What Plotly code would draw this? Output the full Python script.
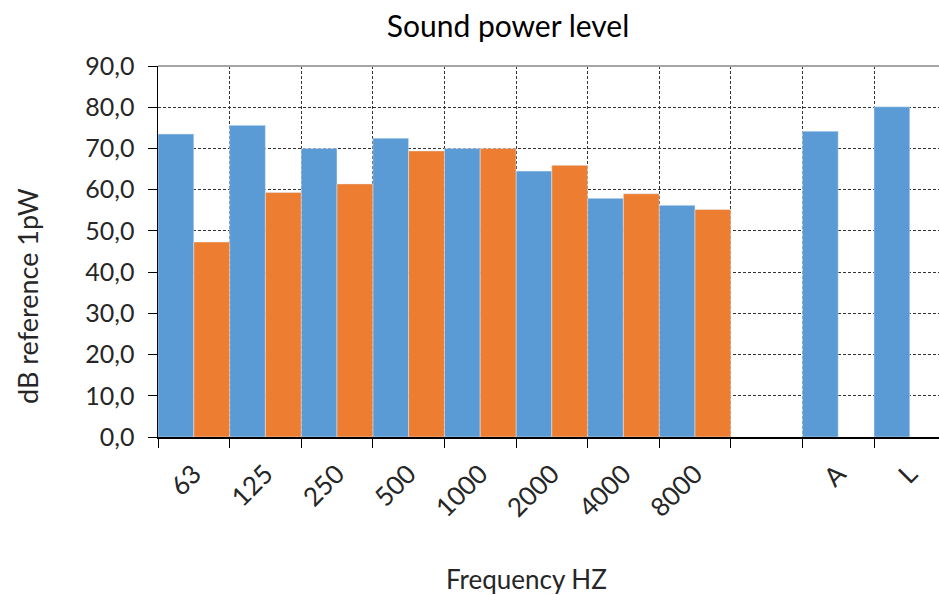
import plotly.graph_objects as go

categories = ["63", "125", "250", "500", "1000", "2000", "4000", "8000", " ", "A", "L"]
series1 = [73.5, 75.6, 70.0, 72.5, 70.0, 64.5, 57.9, 56.2, None, 74.2, 80.1]
series2 = [47.3, 59.3, 61.4, 69.4, 70.0, 65.9, 59.0, 55.2, None, None, None]
y_ticks = [0, 10, 20, 30, 40, 50, 60, 70, 80, 90]

FONT = "Lato"
TXT = "#262626"

# page pixel geometry of the plot area
W, H = 939, 595
PL, PR, PT, PB = 158, 939, 66, 437
CAT_W = 71.6  # pixel width of one category in the reference (last one runs off the edge)

fig = go.Figure()
fig.add_trace(go.Bar(x=categories, y=series1, marker_color="#5B9BD5", name="Series1"))
fig.add_trace(go.Bar(x=categories, y=series2, marker_color="#ED7D31", name="Series2"))

fig.update_layout(
    width=W, height=H,
    margin=dict(l=PL, r=W - PR, t=PT, b=H - PB, pad=0),
    paper_bgcolor="white", plot_bgcolor="white",
    barmode="group", bargap=0, bargroupgap=0,
    showlegend=False,
    separators=", ",
    font=dict(family=FONT, color=TXT),
    title=dict(text="Sound power level", x=508 / W, xref="container", xanchor="center",
               y=1 - 26 / H, yanchor="middle", yref="container",
               font=dict(size=30, family=FONT, color="#000000")),
)

fig.update_xaxes(
    type="category", categoryorder="array", categoryarray=categories,
    range=[-0.5, -0.5 + (PR - PL) / CAT_W],
    tickson="boundaries", ticks="outside", ticklen=9, tickcolor="#000000", tickwidth=1,
    showline=True, linecolor="#000000", linewidth=1.5,
    showgrid=True, gridcolor="#333333", griddash="3px,2px", gridwidth=1,
    tickangle=-45, tickfont=dict(size=26, family=FONT, color=TXT),
    ticklabelstandoff=10,
    fixedrange=True,
)
fig.update_yaxes(
    range=[0, 90], tickvals=y_ticks, tickformat=".1f",
    ticks="outside", ticklen=9, tickcolor="#000000", tickwidth=1,
    showline=True, linecolor="#000000", linewidth=1.5,
    showgrid=True, gridcolor="#333333", griddash="3px,2px", gridwidth=1,
    tickfont=dict(size=25, family=FONT, color=TXT),
    ticklabelstandoff=8,
    zeroline=False,
)

fig.add_shape(type="line", xref="paper", yref="paper", x0=0, x1=1, y0=1, y1=1,
              line=dict(color="#A6A6A6", width=2), layer="above")

pw, ph = PR - PL, PB - PT
fig.add_annotation(text="dB reference 1pW", textangle=-90, xref="paper", yref="paper",
                   x=(27 - PL) / pw, y=(PB - 296) / ph, xanchor="center", yanchor="middle",
                   showarrow=False, font=dict(size=27, family=FONT, color=TXT))
fig.add_annotation(text="Frequency HZ", xref="paper", yref="paper",
                   x=(526 - PL) / pw, y=(PB - 579) / ph, xanchor="center", yanchor="middle",
                   showarrow=False, font=dict(size=26, family=FONT, color=TXT))

fig.write_html(
    "out.html",
    config={"displayModeBar": False, "staticPlot": True},
    post_script="document.body.style.margin='0';document.body.style.overflow='hidden';",
)
